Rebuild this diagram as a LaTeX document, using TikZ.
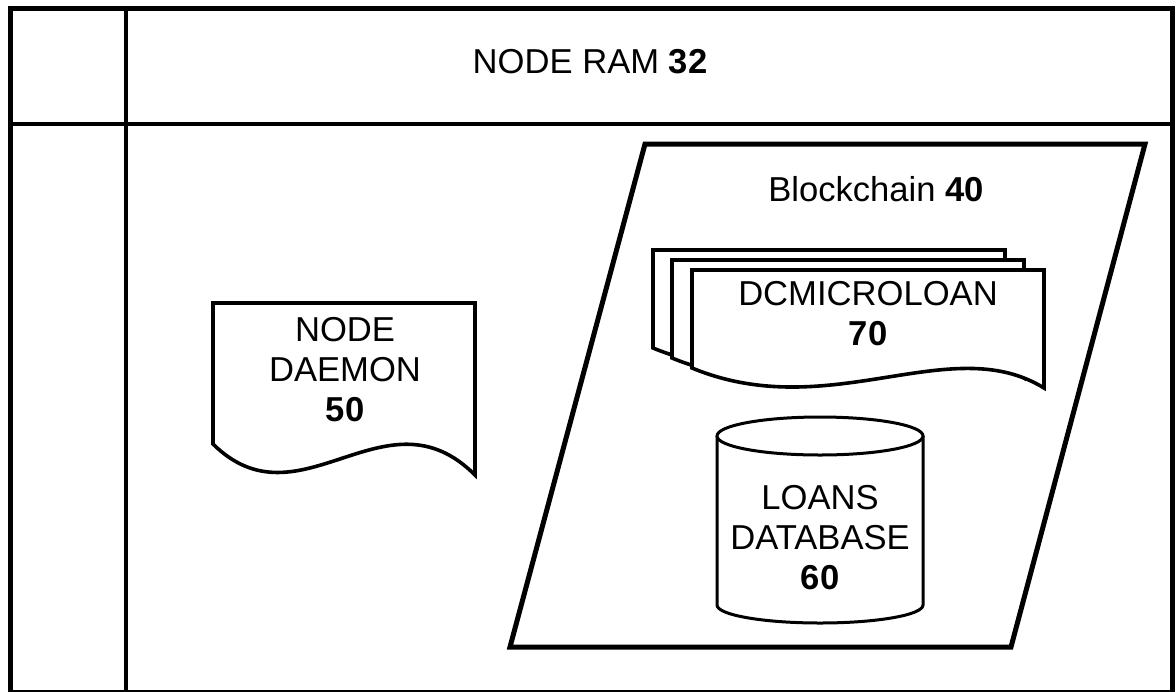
\documentclass[tikz,border=0pt]{standalone}
\usepackage{fontspec}
\setmainfont{Liberation Sans}
\begin{document}
\begin{tikzpicture}[x=0.5pt,y=-0.5pt,
  frame/.style={line width=2.5pt},
  divider/.style={line width=2pt},
  ledger/.style={line width=2.5pt},
  docshape/.style={line width=1.8pt,fill=white,line join=miter},
  drum/.style={line width=1.5pt,fill=white},
  label/.style={font=\fontsize{17.3}{20}\selectfont,align=center,inner sep=0pt}]
\useasboundingbox (0,0) rectangle (1176,691);
% outer table with header row and narrow left column
\begin{scope}
\clip (0,0) rectangle (1176,691);
\draw[frame] (10,8) rectangle (1172,692.5);
\end{scope}
\draw[divider] (126,8) -- (126,691);
\draw[divider] (10,124) -- (1172,124);
\node[label] (ram) at (590,62) {NODE RAM \textbf{32}};
% blockchain parallelogram
\draw[ledger] (645,144) -- (1145,144) -- (1011,647) -- (510,647) -- cycle;
\node[label] (chain) at (876,189) {Blockchain \textbf{40}};
% node daemon document
\draw[docshape] (213,303) -- (475,303) -- (475,475)
  .. controls (385,385) and (300,530) .. (213,444) -- cycle;
\node[label] (daemon) at (345,370) {NODE\\DAEMON\\\textbf{50}};
% stacked microloan documents
\foreach \dx/\dy in {-39/-20,-20/-10,0/0}{
  \draw[docshape,shift={(\dx,\dy)}] (692,270) -- (1044,270) -- (1044,388)
    .. controls (950,330) and (830,425) .. (692,368) -- cycle;
}
\node[label] (loan) at (868,314) {DCMICROLOAN\\\textbf{70}};
% loans database cylinder
\draw[drum] (717,436) -- (717,605) arc (180:0:103 and 18) -- (923,436);
\draw[drum] (820,436) ellipse [x radius=103, y radius=19];
\node[label] (db) at (820,538) {LOANS\\DATABASE\\\textbf{60}};
\end{tikzpicture}
\end{document}
